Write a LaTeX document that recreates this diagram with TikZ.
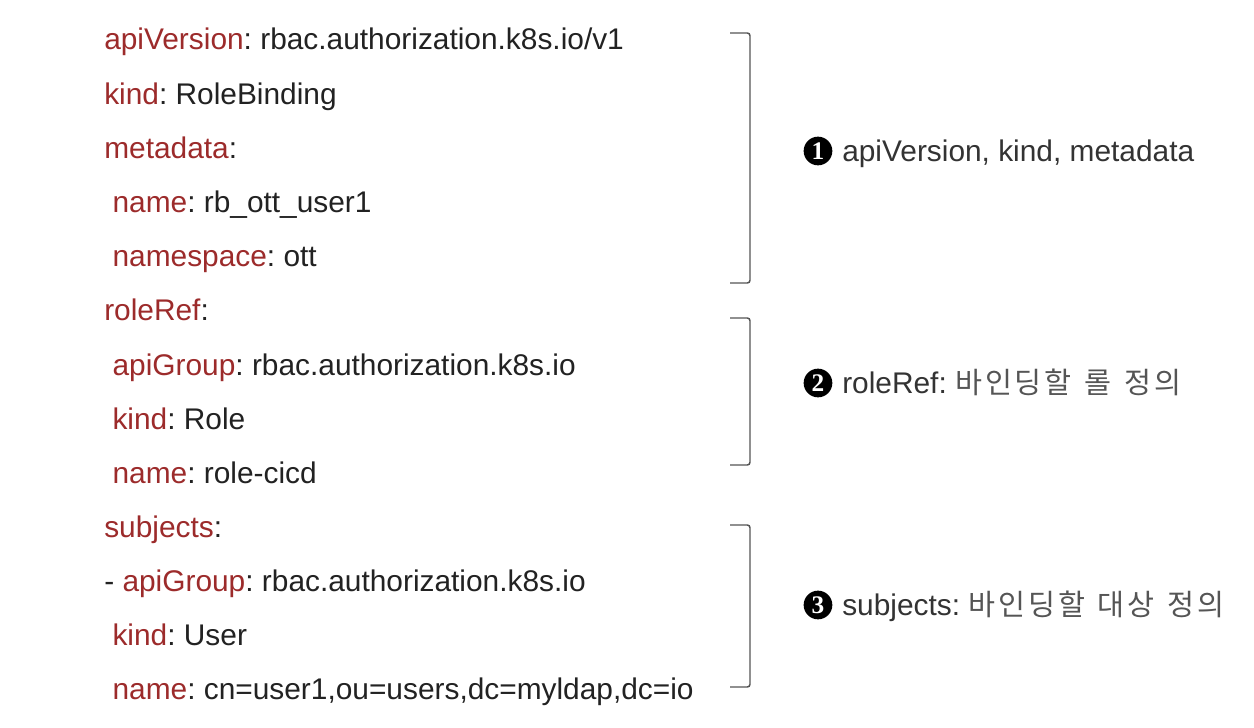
\documentclass[tikz,border=0pt]{standalone}
\usepackage{xcolor}
\usepackage{fontspec}
\setmainfont{Liberation Sans}
\newfontfamily\krfont[LetterSpace=10]{Noto Sans CJK KR}
\newfontfamily\digfont{Liberation Serif}
\usetikzlibrary{positioning}
\frenchspacing

\definecolor{yamlkey}{RGB}{156,43,43}
\definecolor{yamlval}{RGB}{34,34,34}
\definecolor{notetxt}{RGB}{51,51,51}
\definecolor{kortxt}{RGB}{85,85,85}
\definecolor{brk}{RGB}{85,85,85}
\newcommand{\ky}[1]{\textcolor{yamlkey}{#1}}
\newcommand{\kr}[1]{{\krfont\fontsize{22}{24}\selectfont\textcolor{kortxt}{#1}}}
\newcommand{\krsp}{\hspace{9.5pt}}

\tikzset{
  yline/.style={anchor=base west, inner sep=0pt, text=yamlval, font=\fontsize{22.4}{27}\selectfont},
  numdot/.style={circle, fill=black, text=white, inner sep=0pt, minimum size=21.5pt, font=\digfont\bfseries\fontsize{19}{19}\selectfont},
  note/.style={anchor=base west, inner sep=0pt, text=notetxt, font=\fontsize{22.4}{27}\selectfont},
  bracket/.style={draw=brk, line width=1.1pt, rounded corners=2pt}
}

\begin{document}
\begin{tikzpicture}[x=0.75pt,y=0.75pt,yscale=-1,xscale=1]
        \useasboundingbox (0,0) rectangle (1254,728); %same size as the reference

        % YAML lines
        \node[yline] (l1) at (104,50) {\ky{apiVersion}: rbac.authorization.k8s.io/v1};
        \node[yline] (l2) at (104,104) {\ky{kind}: RoleBinding};
        \node[yline] (l3) at (104,158) {\ky{metadata}:};
        \node[yline] (l4) at (104,212) {\ \ky{name}: rb\_ott\_user1};
        \node[yline] (l5) at (104,266) {\ \ky{namespace}: ott};
        \node[yline] (l6) at (104,320) {\ky{roleRef}:};
        \node[yline] (l7) at (104,375) {\ \ky{apiGroup}: rbac.authorization.k8s.io};
        \node[yline] (l8) at (104,429) {\ \ky{kind}: Role};
        \node[yline] (l9) at (104,483) {\ \ky{name}: role-cicd};
        \node[yline] (l10) at (104,537) {\ky{subjects}:};
        \node[yline] (l11) at (104,591) {- \ky{apiGroup}: rbac.authorization.k8s.io};
        \node[yline] (l12) at (104,645) {\ \ky{kind}: User};
        \node[yline] (l13) at (104,699) {\ \ky{name}: cn=user1,ou=users,dc=myldap,dc=io};

        % Brackets
        \coordinate (b1t) at (750,33);
        \coordinate (b1b) at (750,283);
        \draw[bracket] ([xshift=-15]b1t) -- (b1t) -- (b1b) -- ([xshift=-15]b1b);
        \coordinate (b2t) at (750,318);
        \coordinate (b2b) at (750,465);
        \draw[bracket] ([xshift=-15]b2t) -- (b2t) -- (b2b) -- ([xshift=-15]b2b);
        \coordinate (b3t) at (750,525);
        \coordinate (b3b) at (750,687);
        \draw[bracket] ([xshift=-15]b3t) -- (b3t) -- (b3b) -- ([xshift=-15]b3b);

        % Notes
        \node[numdot] (n1) at (818,151) {1};
        \node[note] (t1) at (842,161) {apiVersion, kind, metadata};
        \node[numdot] (n2) at (818,383) {2};
        \node[note] (t2) at (842,393) {roleRef: \kr{바인딩할\krsp 롤\krsp 정의}};
        \node[numdot] (n3) at (818,605) {3};
        \node[note] (t3) at (842,615) {subjects: \kr{바인딩할\krsp 대상\krsp 정의}};

\end{tikzpicture}
\end{document}
